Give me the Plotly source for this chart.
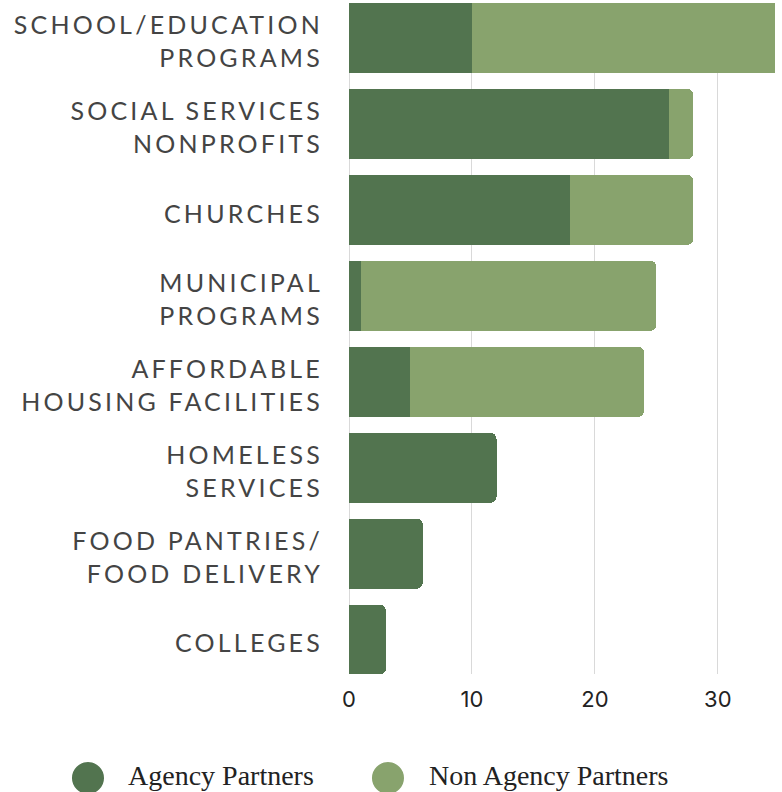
import plotly.graph_objects as go

# Partner counts by organisation type
categories = [
    "SCHOOL/EDUCATION<br>PROGRAMS",
    "SOCIAL SERVICES<br>NONPROFITS",
    "CHURCHES",
    "MUNICIPAL<br>PROGRAMS",
    "AFFORDABLE<br>HOUSING FACILITIES",
    "HOMELESS<br>SERVICES",
    "FOOD PANTRIES/<br>FOOD DELIVERY",
    "COLLEGES",
]
agency_partners = [10, 26, 18, 1, 5, 12, 6, 3]
non_agency_partners = [25, 2, 10, 24, 19, 0, 0, 0]
x_ticks = [0, 10, 20, 30]
series_names = ["Agency Partners", "Non Agency Partners"]
series_colors = ["#52744f", "#88a36d"]

fig = go.Figure()
for name, vals, color in zip(series_names, [agency_partners, non_agency_partners], series_colors):
    fig.add_trace(go.Bar(
        y=categories, x=vals, name=name, orientation="h",
        marker=dict(color=color, line=dict(width=0)),
        showlegend=False,
    ))

# Legend drawn as circles + serif labels below the plot (paper coords of the plot area)
legend_cx = [-0.6127, 0.0915]
legend_tx = [-0.524, 0.183]
rx, ry = 0.0376, 0.0238
cy = -0.155
for name, color, cx, tx in zip(series_names, series_colors, legend_cx, legend_tx):
    fig.add_shape(type="circle", xref="paper", yref="paper",
                  x0=cx - rx, x1=cx + rx, y0=cy - ry, y1=cy + ry,
                  fillcolor=color, line=dict(width=0))
    fig.add_annotation(text=name, xref="paper", yref="paper",
                       x=tx, y=-0.152, xanchor="left", yanchor="middle",
                       showarrow=False,
                       font=dict(family="Liberation Serif", size=28, color="#222"))

fig.update_layout(
    barmode="stack",
    bargap=0.185,
    barcornerradius=6,
    width=782, height=792,
    margin=dict(l=349, r=7, t=3, b=118),
    paper_bgcolor="white", plot_bgcolor="white",
    xaxis=dict(
        range=[0, 34.65], tickvals=x_ticks, showgrid=True, gridcolor="#d9d9d9",
        gridwidth=1, zeroline=True, zerolinecolor="#d9d9d9", zerolinewidth=1,
        tickfont=dict(family="Inter", size=22, color="#222"), ticks="",
        ticklabelstandoff=10,
    ),
    yaxis=dict(
        categoryorder="array", categoryarray=categories,
        range=[7.40, -0.407], ticks="", showgrid=False,
        tickfont=dict(family="Lato", size=25, color="#444"),
        ticklabelstandoff=25, ticklabelshift=-4,
    ),
)

# Spaced-out capitals for the category labels
spacing_js = """
document.querySelectorAll('.ytick text').forEach(function(t){
  t.style.letterSpacing = '3.2px';
});
"""
fig.write_html("out.html", post_script=spacing_js)
